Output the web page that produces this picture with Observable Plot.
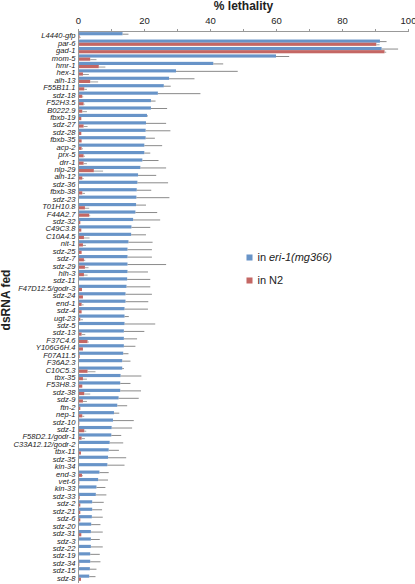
<!DOCTYPE html>
<html><head><meta charset="utf-8">
<script src="https://cdn.jsdelivr.net/npm/d3@7"></script>
<script src="https://cdn.jsdelivr.net/npm/@observablehq/plot@0.6"></script>
<style>body{margin:0;background:#fff} svg{display:block}</style>
</head><body><div id="chart"></div>
<script>
const categories = ["L4440-gfp","par-6","gad-1","mom-5","hmr-1","hex-1","alh-13","F55B11.1","sdz-18","F52H3.5",
"B0222.9","fbxb-19","sdz-27","sdz-28","fbxb-35","acp-2","prx-5","drr-1","nlp-29","alh-12",
"sdz-36","fbxb-38","sdz-23","T01H10.8","F44A2.7","sdz-32","C49C3.8","C10A4.5","nit-1","sdz-25",
"sdz-7","sdz-29","hlh-3","sdz-11","F47D12.5/godr-3","sdz-24","end-1","sdz-4","ugt-23","sdz-5",
"sdz-13","F37C4.6","Y106G6H.4","F07A11.5","F36A2.3","C10C5.3","tbx-35","F53H8.3","sdz-38","sdz-9",
"ftn-2","nep-1","sdz-10","sdz-1","F58D2.1/godr-1","C33A12.12/godr-2","tbx-11","sdz-35","kin-34","end-3",
"vet-6","kin-33","sdz-33","sdz-2","sdz-21","sdz-6","sdz-20","sdz-31","sdz-3","sdz-22",
"sdz-19","sdz-34","sdz-15","sdz-8"];
const eriValues = [13.5,91.5,92,60,41,29.7,27.6,26,24.2,22.1,
22.1,20.9,20.6,20.5,20.5,20.1,20.1,19.5,18.9,18.2,
18,17.8,17.7,17.6,17.4,16.7,16.2,16.1,15.3,15,
15,15,15,14.9,14.7,14.4,14.4,14.1,14.1,14.1,
13.9,13.9,13.9,13.7,13.4,13.4,12.9,12.8,12.8,12.3,
11.9,10.9,10.6,10.2,10.1,9.6,9.3,9.1,8.9,6.5,
6.1,5.6,5.4,4.3,4.3,4.2,4.0,3.9,3.9,3.9,
3.7,3.7,3.6,3.4];
const eriErrors = [1.8,2,5,4,3,18.7,7.7,2.1,12.9,1.4,
4.9,0.3,6.1,7.5,2.8,5.4,1.8,4.9,7.8,5.5,
9.3,4.4,10,3,6.6,8.2,5.7,4.5,7.3,7.4,
7.4,11.7,6.2,7,7.2,8,6.9,7.1,1.3,9.3,
6.2,4,3.5,1.6,2.5,0.5,6.3,3.1,6.3,6.1,
3,1.6,6.3,6.2,3,4.1,3.1,5.5,5.2,2.8,
3,2.7,3.2,3.5,3,3.3,2.8,3.6,2.7,3.6,
2.9,3.1,2,1.9];
const n2Values = [0.5,90.4,92.9,3.7,6.3,1.5,3.7,1.9,1.3,1.7,
1.3,1.0,1.7,1.0,1.1,1.1,1.7,1.7,4.8,1.3,
0.3,1.3,0.2,2.1,3.4,0.7,1.0,1.8,1.5,1.1,
1.8,2.1,1.8,0.2,1.2,1.5,1.1,1.1,0.7,0.1,
1.1,2.9,1.5,0.5,0.2,2.9,1.5,1.3,1.9,1.5,
0.7,1.3,0.4,1.9,1.1,0.3,0.9,0.2,0.1,1.2,
0.4,0.3,0.5,0.7,0.7,0.7,0.3,1.0,0.2,0.2,
0.2,0.4,0.2,0.9];
const n2Errors = [0.3,1,0.5,1.9,2,1.8,2.4,0.8,0.3,0.3,
1.4,0,1.2,0,0,0.4,0.4,1.0,2.8,0.4,
0,0.8,0,1.3,0.3,0,0,1.7,0.9,0,
0.4,1.1,1.1,0,0,0,0.6,0,0.8,0,
1.1,0.4,0,0,0,2.4,1.2,0,1.8,1.2,
0,0.6,0,0.6,1.0,0,0,0,0,0.3,
0,0,0,0,0,0,0,0,0,0,
0,0,0,0];
const seriesNames = ["in eri-1(mg366)", "in N2"];
const xTicks = [0,10,20,30,40,50,60,70,80,90,100];

const blue = "#6894c8", red = "#c46764";
const W = 415, H = 584, mT = 31, mB = 2, mL = 78, mR = 7;
const pad = 0.15;
const step = (H - mT - mB) / (categories.length + pad);
const bw = step * (1 - pad);
const half = bw / 2;

const eriRows = categories.map((c, i) => ({gene: c, value: eriValues[i], err: eriErrors[i]}));
const n2Rows = categories.map((c, i) => ({gene: c, value: n2Values[i], err: n2Errors[i]}));

const chart = Plot.plot({
  width: W, height: H,
  marginTop: mT, marginBottom: mB, marginLeft: mL, marginRight: mR,
  style: {fontFamily: "'Liberation Sans', Arial, sans-serif", background: "#fff", color: "#222"},
  x: {domain: [0, 100]},
  y: {domain: categories, padding: pad},
  marks: [
    Plot.barX(eriRows, {y: "gene", x: "value", fill: blue, insetBottom: half}),
    Plot.barX(n2Rows, {y: "gene", x: "value", fill: red, insetTop: half}),
    Plot.ruleY(eriRows.filter(d => d.err > 0), {y: "gene", x1: "value", x2: d => d.value + d.err, dy: -half / 2, stroke: "#8a8a8a", strokeWidth: 1}),
    Plot.ruleY(n2Rows.filter(d => d.err > 0), {y: "gene", x1: "value", x2: d => d.value + d.err, dy: half / 2, stroke: "#a0a0a0", strokeWidth: 1}),
    Plot.frame({anchor: "top", stroke: "#999"}),
    Plot.frame({anchor: "left", stroke: "#999"}),
    Plot.axisY({anchor: "left", label: null, tickSize: 0, tickPadding: 3, fontStyle: "italic", fontSize: 7.6}),
    Plot.axisX({anchor: "top", label: null, ticks: xTicks, tickFormat: d => d % 20 === 0 ? d : "", tickSize: 3, tickPadding: 5, fontSize: 9.5, stroke: "#999"}),
    Plot.text(["% lethality"], {frameAnchor: "top", dy: -25, lineAnchor: "middle", fontWeight: "bold", fontSize: 12}),
    Plot.text(["dsRNA fed"], {frameAnchor: "left", dx: -72, dy: -7, rotate: -90, textAnchor: "middle", lineAnchor: "middle", fontWeight: "bold", fontSize: 12}),
    Plot.dot([seriesNames[0]], {frameAnchor: "top-left", dx: 171, dy: 226, symbol: "square", r: 3.4, fill: blue, stroke: null}),
    Plot.dot([seriesNames[1]], {frameAnchor: "top-left", dx: 171, dy: 249, symbol: "square", r: 3.4, fill: red, stroke: null}),
    Plot.text(["in"], {frameAnchor: "top-left", dx: 179, dy: 226, textAnchor: "start", lineAnchor: "middle", fontSize: 11}),
    Plot.text([seriesNames[0].slice(3)], {frameAnchor: "top-left", dx: 190.5, dy: 226, textAnchor: "start", lineAnchor: "middle", fontSize: 11, fontStyle: "italic"}),
    Plot.text([seriesNames[1]], {frameAnchor: "top-left", dx: 179, dy: 249, textAnchor: "start", lineAnchor: "middle", fontSize: 11})
  ]
});
document.getElementById("chart").append(chart);
</script>
</body></html>
